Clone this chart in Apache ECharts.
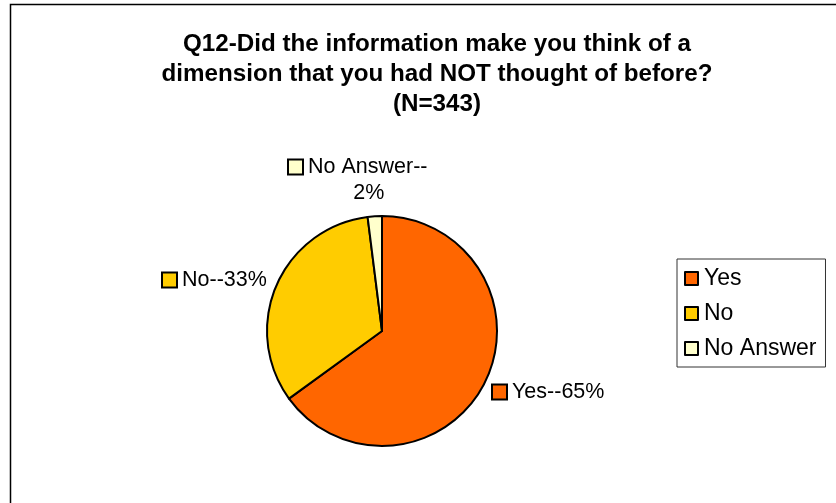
<!DOCTYPE html>
<html>
<head>
<meta charset="utf-8">
<script src="https://cdn.jsdelivr.net/npm/echarts@6/dist/echarts.min.js"></script>
<style>
  html, body { margin: 0; padding: 0; background: #fff; }
  #chart { width: 836px; height: 503px; }
</style>
</head>
<body>
<div id="chart"></div>
<script>
// Survey answers for Q12 (percent of respondents, N=343)
const categories = ['Yes', 'No', 'No Answer'];
const percents = [65, 33, 2];
const sliceColors = ['#FF6600', '#FFCC00', '#FFFFCC'];
const titleText = 'Q12-Did the information make you think of a\ndimension that you had NOT thought of before?\n(N=343)';

const FONT = '"Liberation Sans", Arial, sans-serif';

// Where each slice's callout sits (left edge of the swatch, vertical anchor)
const labelSpots = [
  { x: 493, y: 392, verticalAlign: 'middle' },
  { x: 163, y: 280, verticalAlign: 'middle' },
  { x: 288, y: 154, verticalAlign: 'top' }
];

const richFor = (color) => ({
  sq: { width: 13, height: 13, backgroundColor: color, borderColor: '#000', borderWidth: 2 },
  g: { width: 6 },
  g2: { width: 21 },
  t: { fontSize: 21.5, color: '#000', fontFamily: FONT, lineHeight: 26 }
});

const seriesData = categories.map((name, i) => {
  const pct = percents[i] + '%';
  const text = i === 2
    ? '{sq|}{g|}{t|' + name + '--}\n{g2|}{t|' + pct + '}'
    : '{sq|}{g|}{t|' + name + '--' + pct + '}';
  return {
    name: name,
    value: percents[i],
    itemStyle: { color: sliceColors[i] },
    label: { formatter: text, rich: richFor(sliceColors[i]), align: i === 2 ? 'center' : 'left' }
  };
});

const chart = echarts.init(document.getElementById('chart'), null, { renderer: 'canvas' });

chart.setOption({
  backgroundColor: '#fff',
  animation: false,
  title: {
    text: titleText,
    left: 437,
    top: 29,
    textAlign: 'center',
    padding: 0,
    textStyle: {
      fontFamily: FONT,
      fontWeight: 'bold',
      fontSize: 24.2,
      lineHeight: 30,
      color: '#000'
    }
  },
  legend: {
    data: categories,
    orient: 'vertical',
    left: 677,
    top: 259,
    padding: [8, 9, 7, 7],
    itemGap: 12,
    itemWidth: 13,
    itemHeight: 13,
    icon: 'rect',
    borderColor: '#333',
    borderWidth: 1,
    itemStyle: { borderColor: '#000', borderWidth: 2 },
    textStyle: { fontFamily: FONT, fontSize: 23, lineHeight: 23, color: '#000', padding: [0, 0, 0, 1] }
  },
  graphic: [
    {
      type: 'rect',
      silent: true,
      shape: { x: 10.5, y: 4.5, width: 900, height: 600 },
      style: { fill: 'none', stroke: '#000', lineWidth: 1.5 }
    }
  ],
  series: [
    {
      type: 'pie',
      center: [382, 331],
      radius: 115,
      startAngle: 90,
      clockwise: true,
      itemStyle: { borderColor: '#000', borderWidth: 2 },
      emphasis: { disabled: true },
      label: { show: true, position: 'outside' },
      labelLine: { show: false },
      labelLayout: function (params) {
        const s = labelSpots[params.dataIndex];
        const left = s.x;
        if (params.dataIndex === 2) {
          // two-line callout is centred; shift anchor to its middle
          return { x: left + params.labelRect.width / 2, y: s.y, align: 'center', verticalAlign: s.verticalAlign };
        }
        return { x: left, y: s.y, align: 'left', verticalAlign: s.verticalAlign };
      },
      data: seriesData
    }
  ]
});
</script>
</body>
</html>
